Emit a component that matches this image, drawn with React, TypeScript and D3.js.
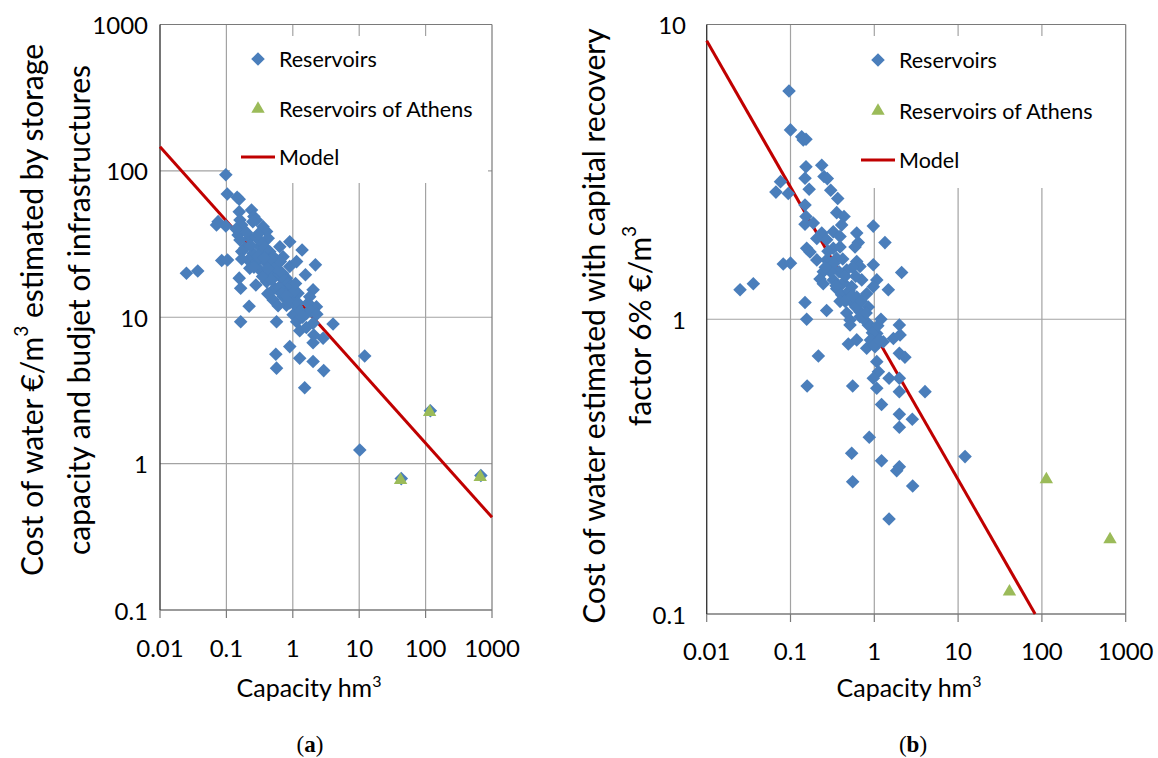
import * as d3 from 'd3'

type Pt = [number, number]

const xTicks = [0.01, 0.1, 1, 10, 100, 1000]
const yTicksA = [0.1, 1, 10, 100, 1000]
const yTicksB = [0.1, 1, 10]

// (a) cost from storage capacity and budget
const reservoirsA: Pt[] = [
  [0.098, 94], [0.103, 69.5], [0.145, 66], [0.156, 64], [0.156, 52.6], [0.239, 54], [0.259, 48.7],
  [0.284, 46.2], [0.075, 45], [0.071, 42.7], [0.098, 42], [0.16, 46.2], [0.17, 42.7], [0.357, 41.6],
  [0.403, 38.5], [0.15, 36.5], [0.16, 33.7], [0.225, 34.8], [0.426, 34.6], [0.9, 32.8], [0.638, 30.3],
  [0.319, 30.3], [0.19, 29.7], [0.17, 28.1], [0.253, 27.4], [0.357, 28.1], [1.38, 28.8], [0.025, 20],
  [0.037, 20.7], [0.085, 24.4], [0.104, 24.6], [0.213, 24.6], [0.284, 24], [0.225, 21.6], [0.403, 23.4],
  [0.569, 24.6], [0.715, 25.9], [0.9, 22.2], [1.14, 24], [2.19, 22.8], [1.55, 19.5], [0.451, 20],
  [0.319, 21], [0.601, 19.5], [0.803, 18.5], [0.156, 18.5], [0.164, 15.8], [0.278, 16.6], [0.403, 17.5],
  [0.536, 15.8], [0.715, 16.2], [0.9, 15.4], [2.02, 15.4], [1.8, 13.8], [0.506, 13.1], [0.715, 13.8],
  [1.01, 13.1], [1.2, 14.6], [0.22, 11.9], [0.803, 12.1], [1.14, 11.8], [2.27, 11.8], [1.61, 10.6],
  [1.01, 10.4], [0.164, 9.33], [0.569, 9.33], [1.14, 9.33], [2.02, 9.1], [4.04, 9], [1.27, 8.09],
  [2.07, 7.56], [2.86, 7.19], [2.02, 6.7], [0.9, 6.3], [0.555, 5.58], [12.1, 5.44], [1.27, 5.25],
  [2.02, 4.98], [0.569, 4.49], [2.92, 4.32], [1.51, 3.3], [10.2, 1.24],
  [0.2, 38], [0.28, 35], [0.33, 33], [0.38, 30], [0.45, 28], [0.5, 26], [0.55, 22], [0.6, 21],
  [0.65, 24], [0.7, 20], [0.75, 18], [0.85, 17], [0.95, 16.5], [1.05, 15], [1.1, 17], [0.3, 26],
  [0.26, 22], [0.35, 19], [0.42, 21.5], [0.48, 18], [0.62, 16], [0.68, 14.5], [0.8, 14], [0.9, 12.5],
  [1.2, 12.5], [1.3, 11], [1.7, 12.5], [1.9, 11], [0.6, 12], [0.47, 25], [0.23, 31], [0.37, 25.5],
  [0.42, 14.5], [1.4, 10], [1.6, 8.5], [2.3, 10.5], [0.25, 45], [0.3, 37], [0.14, 40], [0.17, 25],
  [43, 0.79], [118, 2.3], [680, 0.83],
]
const athensA: Pt[] = [[42, 0.77], [115, 2.25], [665, 0.81]]
const modelA: Pt[] = [[0.01, 146], [1000, 0.43]]

// (b) cost with capital recovery factor 6%
const reservoirsB: Pt[] = [
  [0.096, 5.95], [0.1, 4.39], [0.136, 4.16], [0.153, 4.08], [0.142, 4.06], [0.153, 3.29], [0.236, 3.33],
  [0.149, 3.01], [0.251, 3.05], [0.275, 3.0], [0.076, 2.93], [0.067, 2.7], [0.094, 2.67], [0.167, 2.76],
  [0.302, 2.74], [0.366, 2.57], [0.149, 2.44], [0.356, 2.3], [0.435, 2.23], [0.153, 2.23], [0.149, 2.1],
  [0.408, 2.09], [0.187, 2.12], [0.973, 2.07], [0.617, 1.96], [0.236, 1.96], [0.324, 1.98], [0.206, 1.88],
  [0.39, 1.91], [0.27, 1.86], [1.34, 1.82], [0.644, 1.82], [0.156, 1.74], [0.171, 1.69], [0.324, 1.74],
  [0.39, 1.76], [0.589, 1.76], [0.206, 1.59], [0.27, 1.59], [0.356, 1.61], [0.617, 1.57], [0.082, 1.54],
  [0.1, 1.55], [0.973, 1.53], [2.12, 1.44], [0.246, 1.45], [0.31, 1.49], [0.469, 1.47], [0.675, 1.51],
  [0.225, 1.37], [0.324, 1.36], [0.427, 1.33], [0.708, 1.36], [1.07, 1.36], [0.025, 1.26], [0.036, 1.32],
  [0.246, 1.32], [0.356, 1.27], [0.537, 1.29], [0.973, 1.29], [1.47, 1.26], [0.408, 1.21], [0.617, 1.19],
  [0.811, 1.22], [0.149, 1.14], [0.27, 1.07], [0.39, 1.15], [0.561, 1.13], [0.847, 1.1], [0.469, 1.05],
  [0.675, 1.06], [0.156, 1.0], [0.513, 0.994], [1.99, 0.956], [0.513, 0.956], [0.675, 1.02], [0.847, 0.956],
  [0.49, 0.824], [0.617, 0.851], [0.811, 0.797], [1.07, 0.895], [1.28, 0.839], [1.69, 0.861], [2.03, 0.885],
  [1.02, 0.807], [0.215, 0.75], [1.99, 0.766], [2.32, 0.743], [1.07, 0.718], [1.12, 0.664], [0.973, 0.631],
  [1.5, 0.631], [1.99, 0.631], [0.158, 0.594], [0.552, 0.594], [1.07, 0.583], [1.99, 0.568], [4.03, 0.568],
  [1.22, 0.514], [1.99, 0.476], [2.84, 0.458], [1.99, 0.43], [0.871, 0.398], [0.537, 0.351], [1.22, 0.331],
  [1.99, 0.316], [1.85, 0.306], [0.552, 0.281], [2.87, 0.272], [1.5, 0.21], [12.1, 0.342],
  [0.28, 1.7], [0.33, 1.55], [0.38, 1.45], [0.45, 1.4], [0.5, 1.25], [0.55, 1.2], [0.6, 1.1], [0.7, 1.15],
  [0.75, 1.0], [0.8, 1.05], [0.9, 0.95], [0.95, 0.9], [1.1, 0.95], [1.2, 1.0], [0.42, 1.6], [0.3, 1.45],
  [0.26, 1.5], [0.6, 1.4], [0.9, 0.85], [1.0, 0.82], [1.15, 0.85], [0.45, 1.15], [0.35, 1.3], [0.55, 1.5],
]
const athensB: Pt[] = [[41, 0.119], [113, 0.286], [650, 0.179]]
const modelB: Pt[] = [[0.01, 8.8], [83, 0.1]]

const FONT = 'Lato, "Open Sans", sans-serif'
const BLUE = '#4A7EBB'
const GREEN = '#9BBB59'
const RED = '#C00000'
const GRID = '#A3A3A3'

const diamond = d3.symbol(d3.symbolSquare, 92)() as string
const triangle = d3.symbol(d3.symbolTriangle, 78)() as string

type PanelProps = {
  xRange: [number, number]
  yDomain: [number, number]
  yRange: [number, number]
  yTicks: number[]
  reservoirs: Pt[]
  athens: Pt[]
  model: Pt[]
  legend: { x: number; y: number; w: number; h: number; mx: number; tx: number; rows: number[] }
  xLabelY: number
  yLabelX: number
  titleLines: { x: number; y: number; content: React.ReactNode }[]
  xTitle: { x: number; y: number }
  tag: { x: number; y: number; letter: string }
}

function Panel(p: PanelProps) {
  const x = d3.scaleLog().domain([0.01, 1000]).range(p.xRange)
  const y = d3.scaleLog().domain(p.yDomain).range(p.yRange)
  const [x0, x1] = p.xRange
  const [y0, y1] = p.yRange
  const line = d3.line<Pt>().x((d) => x(d[0])).y((d) => y(d[1]))
  const lg = p.legend

  return (
    <g>
      {xTicks.slice(1, -1).map((t) => (
        <line key={'gx' + t} x1={x(t)} x2={x(t)} y1={y0} y2={y1} stroke={GRID} strokeWidth={1.2} />
      ))}
      {p.yTicks.slice(1, -1).map((t) => (
        <line key={'gy' + t} x1={x0} x2={x1} y1={y(t)} y2={y(t)} stroke={GRID} strokeWidth={1.2} />
      ))}
      <line x1={x0} x2={x1} y1={y1} y2={y1} stroke="#7a7a7a" strokeWidth={1.2} />
      <line x1={x1} x2={x1} y1={y1} y2={y0} stroke="#7a7a7a" strokeWidth={1.2} />
      <line x1={x0} x2={x1} y1={y0} y2={y0} stroke="#7a7a7a" strokeWidth={1.4} />
      {xTicks.map((t) => (
        <line key={'tx' + t} x1={x(t)} x2={x(t)} y1={y0} y2={y0 + 8} stroke="#7a7a7a" strokeWidth={1.2} />
      ))}
      <line x1={x0} x2={x0} y1={y0} y2={y1} stroke="#3a3a3a" strokeWidth={1.4} />

      <rect x={lg.x} y={lg.y} width={lg.w} height={lg.h} fill="#fff" />

      <path d={line(p.model) as string} fill="none" stroke={RED} strokeWidth={3} />
      {p.reservoirs.map((d, i) => (
        <path key={'r' + i} d={diamond} fill={BLUE}
          transform={`translate(${x(d[0])},${y(d[1])}) rotate(45)`} />
      ))}
      {p.athens.map((d, i) => (
        <path key={'a' + i} d={triangle} fill={GREEN}
          transform={`translate(${x(d[0])},${y(d[1])})`} />
      ))}

      {xTicks.map((t) => (
        <text key={'lx' + t} x={x(t)} y={p.xLabelY} textAnchor="middle" dominantBaseline="central"
          fontSize={24} fill="#000">{String(t)}</text>
      ))}
      {p.yTicks.map((t) => (
        <text key={'ly' + t} x={p.yLabelX} y={y(t)} textAnchor="end" dominantBaseline="central"
          fontSize={24} fill="#000">{String(t)}</text>
      ))}

      <path d={diamond} fill={BLUE} transform={`translate(${lg.mx},${lg.rows[0]}) rotate(45)`} />
      <path d={triangle} fill={GREEN} transform={`translate(${lg.mx},${lg.rows[1]})`} />
      <line x1={lg.mx - 17} x2={lg.mx + 17} y1={lg.rows[2]} y2={lg.rows[2]} stroke={RED} strokeWidth={3} />
      {['Reservoirs', 'Reservoirs of Athens', 'Model'].map((s, i) => (
        <text key={s} x={lg.tx} y={lg.rows[i]} dominantBaseline="central" fontSize={21.5} fill="#000">{s}</text>
      ))}

      {p.titleLines.map((l, i) => (
        <text key={'t' + i} transform={`translate(${l.x},${l.y}) rotate(-90)`} textAnchor="middle"
          dominantBaseline="central" fontSize={30} fill="#000">{l.content}</text>
      ))}
      <text x={p.xTitle.x} y={p.xTitle.y} textAnchor="middle" fontSize={25} fill="#000">
        Capacity hm<tspan dy={-10} fontSize={16}>3</tspan>
      </text>
      <text x={p.tag.x} y={p.tag.y} textAnchor="middle" fontSize={23} fontFamily='"Liberation Serif", serif' fill="#000">
        (<tspan fontWeight="bold">{p.tag.letter}</tspan>)
      </text>
    </g>
  )
}

export default function App() {
  return (
    <div>
      <style>{`body{margin:0;background:#fff}`}</style>
      <svg width={1158} height={758} viewBox="0 0 1158 758" style={{ display: 'block' }} fontFamily={FONT}>
        <rect width={1158} height={758} fill="#fff" />
        <Panel
          xRange={[160, 492]}
          yDomain={[0.1, 1000]}
          yRange={[610, 24.5]}
          yTicks={yTicksA}
          reservoirs={reservoirsA}
          athens={athensA}
          model={modelA}
          legend={{ x: 230, y: 36, w: 258, h: 147, mx: 258, tx: 279, rows: [59, 109, 157] }}
          xLabelY={647}
          yLabelX={148}
          titleLines={[
            { x: 31, y: 310, content: <>Cost of water €/m<tspan dy={-11} fontSize={19}>3</tspan><tspan dy={11}> estimated by storage</tspan></> },
            { x: 78, y: 310, content: 'capacity and budjet of infrastructures' },
          ]}
          xTitle={{ x: 309, y: 697 }}
          tag={{ x: 310, y: 752, letter: 'a' }}
        />
        <Panel
          xRange={[706.7, 1125.7]}
          yDomain={[0.1, 10]}
          yRange={[614, 24.5]}
          yTicks={yTicksB}
          reservoirs={reservoirsB}
          athens={athensB}
          model={modelB}
          legend={{ x: 848, y: 36, w: 274, h: 152, mx: 878, tx: 899, rows: [60, 111, 160] }}
          xLabelY={650}
          yLabelX={686}
          titleLines={[
            { x: 593, y: 326, content: 'Cost of water estimated with capital recovery' },
            { x: 639, y: 326, content: <>factor 6% €/m<tspan dy={-11} fontSize={19}>3</tspan></> },
          ]}
          xTitle={{ x: 909, y: 697 }}
          tag={{ x: 913, y: 752, letter: 'b' }}
        />
      </svg>
    </div>
  )
}
